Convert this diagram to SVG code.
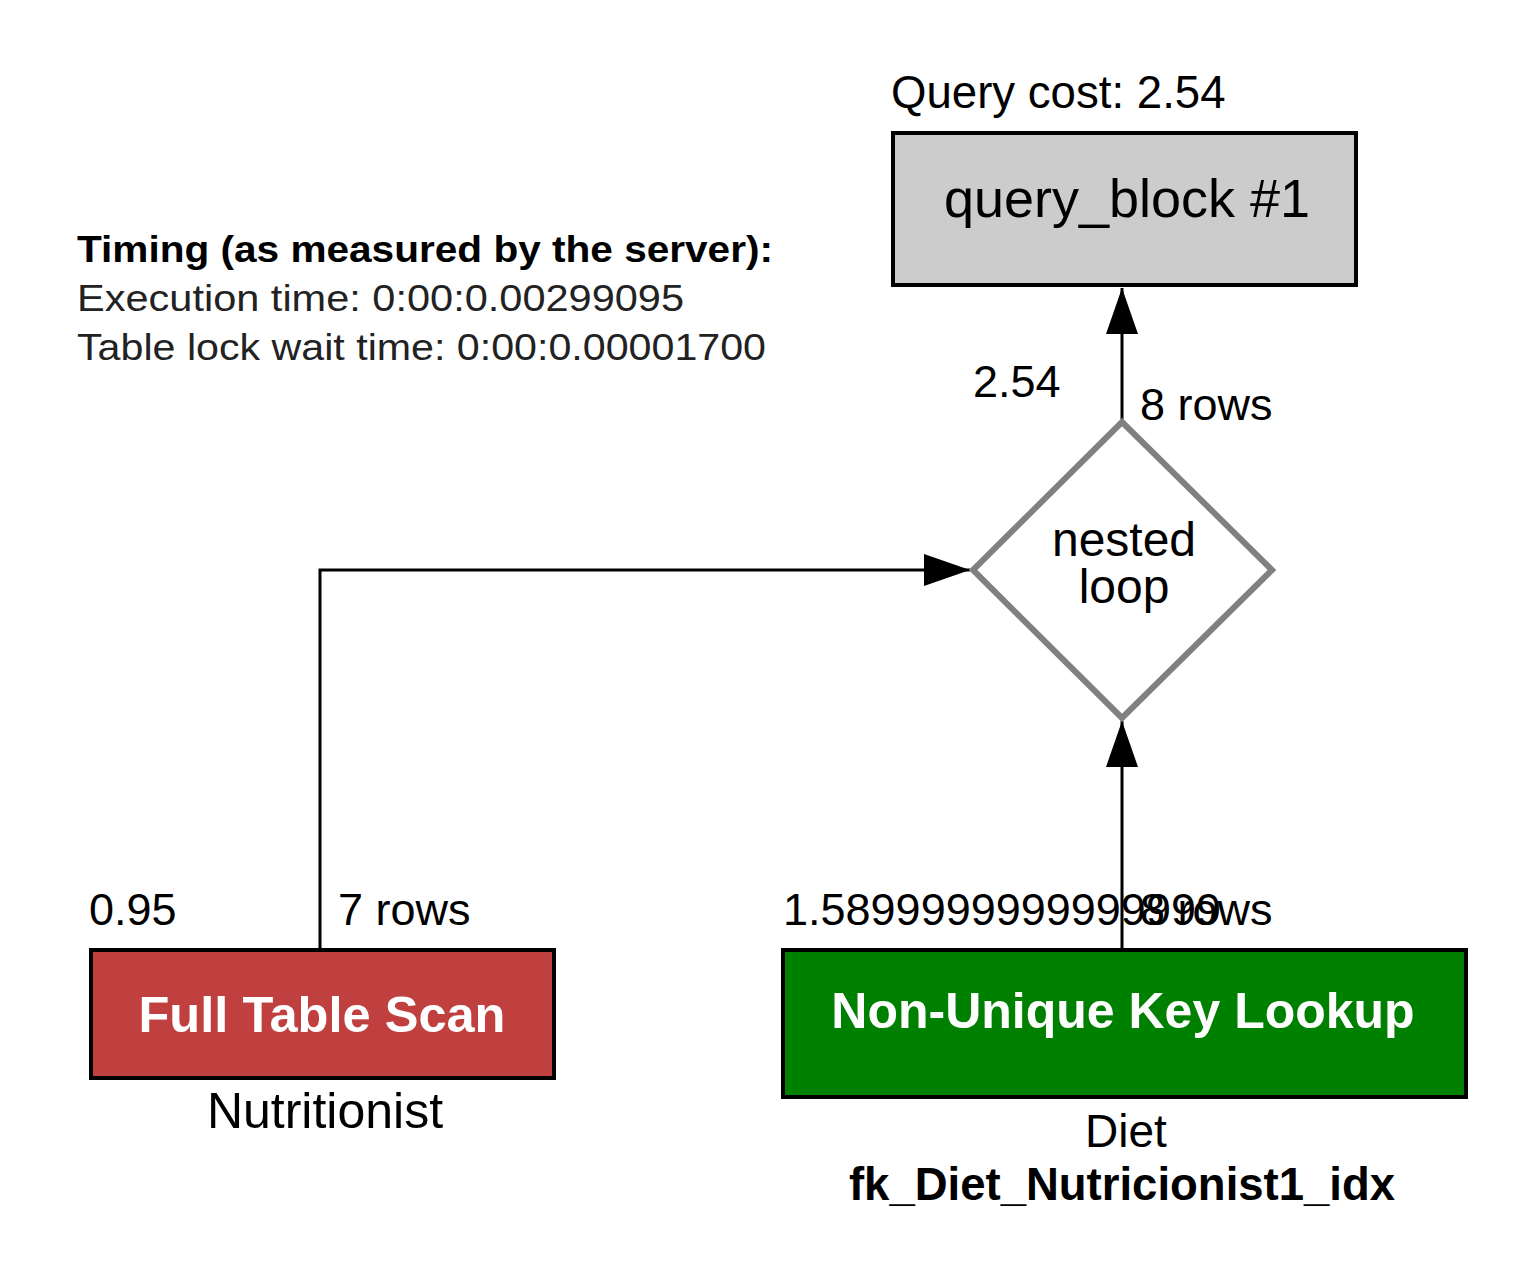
<svg xmlns="http://www.w3.org/2000/svg" width="1521" height="1274" viewBox="0 0 1521 1274">
<style>
text { font-family: "Liberation Sans", Arial, Helvetica, sans-serif; fill: #000; }
.lbl { font-size: 45px; }
.title { font-size: 50px; font-weight: bold; fill: #fff; }
.box { stroke: #000; stroke-width: 4; }
.edge { stroke: #000; stroke-width: 3; fill: none; }
.timing { font-size: 37px; fill: #222; }
</style>
<defs>
<marker id="arr" viewBox="0 0 46 32" markerWidth="46" markerHeight="32" refX="46" refY="16" orient="auto" markerUnits="userSpaceOnUse">
<path d="M0,0 L46,16 L0,32 z" fill="#000"/>
</marker>
</defs>
<rect width="1521" height="1274" fill="#fff"/>

<g id="timing">
<text x="77" y="262" class="timing" style="font-weight:bold;fill:#000" textLength="696" lengthAdjust="spacingAndGlyphs">Timing (as measured by the server):</text>
<text x="77" y="311" class="timing" textLength="607" lengthAdjust="spacingAndGlyphs">Execution time: 0:00:0.00299095</text>
<text x="77" y="360" class="timing" textLength="689" lengthAdjust="spacingAndGlyphs">Table lock wait time: 0:00:0.00001700</text>
</g>

<g id="connectors">
<path class="edge" d="M1122,422 L1122,288" marker-end="url(#arr)"/>
<path class="edge" d="M320,948 L320,570 L970,570" marker-end="url(#arr)"/>
<path class="edge" d="M1122,948 L1122,721" marker-end="url(#arr)"/>
<text x="973" y="397" class="lbl">2.54</text>
<text x="1140" y="420" class="lbl">8 rows</text>
<text x="89" y="925" class="lbl">0.95</text>
<text x="338" y="925" class="lbl">7 rows</text>
<text x="783" y="925" class="lbl">1.5899999999999999</text>
<text x="1140" y="925" class="lbl">8 rows</text>
</g>

<g id="query_block">
<text x="891" y="108" font-size="45.6">Query cost: 2.54</text>
<rect x="893" y="133" width="463" height="152" fill="#cccccc" class="box"/>
<text x="1127" y="217" font-size="54" text-anchor="middle">query_block #1</text>
</g>

<g id="nested_loop">
<polygon points="1122,422 1272,570 1122,718 973,570" fill="#fff" stroke="#808080" stroke-width="6"/>
<text x="1124" y="556" font-size="48" text-anchor="middle">nested</text>
<text x="1124" y="603" font-size="48" text-anchor="middle">loop</text>
</g>

<g id="full_table_scan">
<rect x="91" y="950" width="463" height="128" fill="#c04040" class="box"/>
<text x="322" y="1032" class="title" text-anchor="middle" textLength="367" lengthAdjust="spacingAndGlyphs">Full Table Scan</text>
<text x="325" y="1128" font-size="50" text-anchor="middle">Nutritionist</text>
</g>

<g id="non_unique_key_lookup">
<rect x="783" y="950" width="683" height="147" fill="#008000" class="box"/>
<text x="1123" y="1028" class="title" text-anchor="middle">Non-Unique Key Lookup</text>
<text x="1126" y="1147" font-size="46" text-anchor="middle">Diet</text>
<text x="1122" y="1200" font-size="45.5" font-weight="bold" text-anchor="middle">fk_Diet_Nutricionist1_idx</text>
</g>
</svg>
